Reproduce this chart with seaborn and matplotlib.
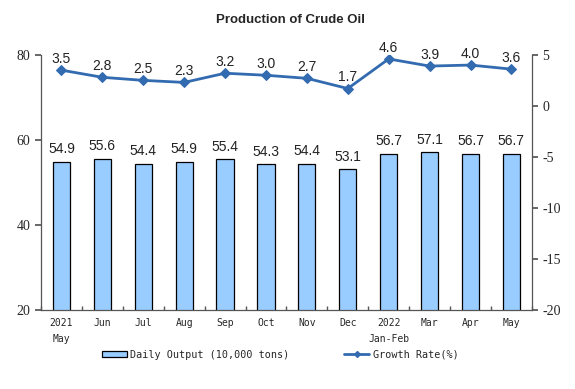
import matplotlib
matplotlib.use("Agg")
import matplotlib.pyplot as plt
import seaborn as sns
import pandas as pd
import numpy as np
from matplotlib.patches import Patch
from matplotlib.lines import Line2D

months = ['2021\nMay', 'Jun', 'Jul', 'Aug', 'Sep', 'Oct', 'Nov', 'Dec',
          '2022\nJan-Feb', 'Mar', 'Apr', 'May']
output = [54.9, 55.6, 54.4, 54.9, 55.4, 54.3, 54.4, 53.1, 56.7, 57.1, 56.7, 56.7]
growth = [3.5, 2.8, 2.5, 2.3, 3.2, 3.0, 2.7, 1.7, 4.6, 3.9, 4.0, 3.6]

df = pd.DataFrame({'month': months, 'output': output, 'growth': growth,
                   'pos': np.arange(len(months))})

sns.set_theme(style='white')
plt.rcParams['axes.unicode_minus'] = False
bar_color = '#99CCFF'
line_color = '#336BB0'

fig, ax = plt.subplots(figsize=(5.75, 3.89), dpi=100)
fig.subplots_adjust(left=0.0713, right=0.925, top=0.859, bottom=0.203)

sns.barplot(data=df, x='month', y='output', ax=ax, color=bar_color,
            saturation=1, width=0.42, edgecolor='black', linewidth=0.9)
ax.set_ylim(20, 80)
ax.set_yticks([20, 40, 60, 80])
ax.set_xlim(-0.5, len(months) - 0.5)
ax.set_xlabel(None)
ax.set_ylabel(None)

for p, v in zip(ax.patches, output):
    ax.annotate('%.1f' % v, xy=(p.get_x() + p.get_width() / 2, p.get_height()),
                xytext=(0, 4), textcoords='offset points', ha='center', va='bottom',
                fontsize=10, family='Liberation Sans', color='#222222')

ax2 = ax.twinx()
sns.lineplot(data=df, x='pos', y='growth', ax=ax2, color=line_color,
             linewidth=2, marker='D', markersize=5, markeredgecolor=line_color)
ax2.set_ylim(-20, 5)
ax2.set_yticks([-20, -15, -10, -5, 0, 5])
ax2.set_xlim(-0.5, len(months) - 0.5)
ax2.set_xlabel(None)
ax2.set_ylabel(None)

for x, v in zip(df['pos'], growth):
    ax2.annotate('%.1f' % v, xy=(x, v), xytext=(0, 3), textcoords='offset points',
                 ha='center', va='bottom', fontsize=10, family='Liberation Sans',
                 color='#222222')

# spines and ticks
for a in (ax, ax2):
    a.spines['top'].set_visible(False)
    a.grid(False)
ax.spines['right'].set_visible(False)
ax2.spines['left'].set_visible(False)
ax2.spines['bottom'].set_visible(False)
for s in ('left', 'bottom'):
    ax.spines[s].set_color('#555555')
    ax.spines[s].set_linewidth(0.9)
ax2.spines['right'].set_color('#555555')
ax2.spines['right'].set_linewidth(0.9)

ax.set_xticks(np.arange(len(months)))
ax.set_xticklabels(months, family='DejaVu Sans Mono', fontsize=7, linespacing=1.7)
ax.tick_params(axis='x', length=0, pad=6)
ax.set_xticks(np.arange(len(months) + 1) - 0.5, minor=True)
ax.tick_params(axis='x', which='minor', length=3, direction='in', color='#555555',
               bottom=True)
ax.tick_params(axis='y', length=4, direction='out', left=True, color='#555555',
               labelsize=10)
ax2.tick_params(axis='y', length=4, direction='out', right=True, color='#555555',
                labelsize=10)
for lab in ax.get_yticklabels() + ax2.get_yticklabels():
    lab.set_family('Liberation Serif')

fig.suptitle('Production of Crude Oil', x=0.505, y=0.963, fontsize=9.5,
             fontweight='bold', family='Liberation Sans')

handles = [Patch(facecolor=bar_color, edgecolor='black', linewidth=0.9),
           Line2D([], [], color=line_color, linewidth=2, marker='D', markersize=3)]
labels = ['Daily Output (10,000 tons)', 'Growth Rate(%)']
fig.legend(handles, labels, loc='center', bbox_to_anchor=(0.487, 0.088), ncol=2,
           frameon=False, prop={'family': 'DejaVu Sans Mono', 'size': 7.3},
           handlelength=2.5, handleheight=0.6, columnspacing=5.4, handletextpad=0.3)

fig.savefig('out.png', dpi=100)
